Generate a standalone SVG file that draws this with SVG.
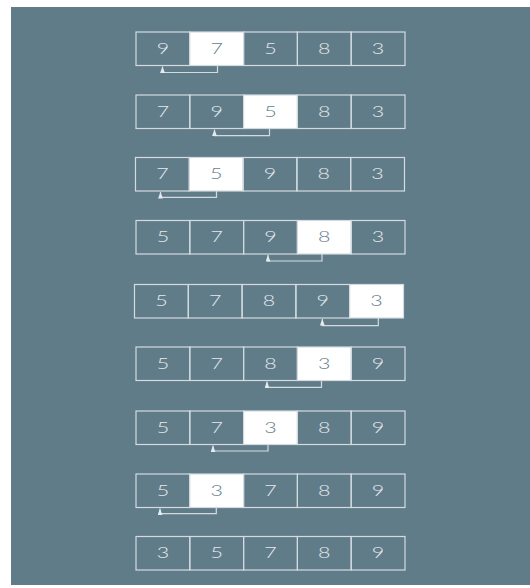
<svg xmlns="http://www.w3.org/2000/svg" width="530" height="588" viewBox="0 0 530 588">
<defs>
<style>
.cell{fill:none;stroke:#d3dbe0;stroke-width:1.2}
.hl{fill:#ffffff;stroke:#d3dbe0;stroke-width:1.2}
.t{font-family:Lato,"Open Sans","DejaVu Sans",sans-serif;font-weight:300;font-size:16.5px;fill:#e4eaee;text-anchor:middle;transform-box:fill-box;transform-origin:center;transform:scaleX(1.3)}
.th{fill:#647e8b}
.con{fill:none;stroke:#d3dbe0;stroke-width:1.2;marker-end:url(#ah)}
</style>
<marker id="ah" viewBox="0 0 6 8" refX="3" refY="0" markerWidth="5" markerHeight="6.5" orient="0" markerUnits="userSpaceOnUse">
<path d="M0,8 L3,0 L6,8 Z" fill="#e4eaee"/>
</marker>
</defs>
<rect x="11" y="7" width="519" height="578" fill="#617c89"/>

<g id="row1" transform="translate(136,32)">
<rect class="cell" x="0" y="0" width="53.8" height="33.5"/><rect class="hl" x="53.8" y="0" width="53.8" height="33.5"/><rect class="cell" x="107.6" y="0" width="53.8" height="33.5"/><rect class="cell" x="161.4" y="0" width="53.8" height="33.5"/><rect class="cell" x="215.2" y="0" width="53.8" height="33.5"/>
<text class="t" x="26.9" y="22">9</text><text class="t th" x="80.7" y="22">7</text><text class="t" x="134.5" y="22">5</text><text class="t" x="188.3" y="22">8</text><text class="t" x="242.1" y="22">3</text>
</g>
<g id="row2" transform="translate(136,95)">
<rect class="cell" x="0" y="0" width="53.8" height="33.5"/><rect class="cell" x="53.8" y="0" width="53.8" height="33.5"/><rect class="hl" x="107.6" y="0" width="53.8" height="33.5"/><rect class="cell" x="161.4" y="0" width="53.8" height="33.5"/><rect class="cell" x="215.2" y="0" width="53.8" height="33.5"/>
<text class="t" x="26.9" y="22">7</text><text class="t" x="80.7" y="22">9</text><text class="t th" x="134.5" y="22">5</text><text class="t" x="188.3" y="22">8</text><text class="t" x="242.1" y="22">3</text>
</g>
<g id="row3" transform="translate(135.5,157.5)">
<rect class="cell" x="0" y="0" width="53.8" height="33.5"/><rect class="hl" x="53.8" y="0" width="53.8" height="33.5"/><rect class="cell" x="107.6" y="0" width="53.8" height="33.5"/><rect class="cell" x="161.4" y="0" width="53.8" height="33.5"/><rect class="cell" x="215.2" y="0" width="53.8" height="33.5"/>
<text class="t" x="26.9" y="22">7</text><text class="t th" x="80.7" y="22">5</text><text class="t" x="134.5" y="22">9</text><text class="t" x="188.3" y="22">8</text><text class="t" x="242.1" y="22">3</text>
</g>
<g id="row4" transform="translate(136,220.5)">
<rect class="cell" x="0" y="0" width="53.8" height="33.5"/><rect class="cell" x="53.8" y="0" width="53.8" height="33.5"/><rect class="cell" x="107.6" y="0" width="53.8" height="33.5"/><rect class="hl" x="161.4" y="0" width="53.8" height="33.5"/><rect class="cell" x="215.2" y="0" width="53.8" height="33.5"/>
<text class="t" x="26.9" y="22">5</text><text class="t" x="80.7" y="22">7</text><text class="t" x="134.5" y="22">9</text><text class="t th" x="188.3" y="22">8</text><text class="t" x="242.1" y="22">3</text>
</g>
<g id="row5" transform="translate(134.5,284.5)">
<rect class="cell" x="0" y="0" width="53.8" height="33.5"/><rect class="cell" x="53.8" y="0" width="53.8" height="33.5"/><rect class="cell" x="107.6" y="0" width="53.8" height="33.5"/><rect class="cell" x="161.4" y="0" width="53.8" height="33.5"/><rect class="hl" x="215.2" y="0" width="53.8" height="33.5"/>
<text class="t" x="26.9" y="22">5</text><text class="t" x="80.7" y="22">7</text><text class="t" x="134.5" y="22">8</text><text class="t" x="188.3" y="22">9</text><text class="t th" x="242.1" y="22">3</text>
</g>
<g id="row6" transform="translate(136,347)">
<rect class="cell" x="0" y="0" width="53.8" height="33.5"/><rect class="cell" x="53.8" y="0" width="53.8" height="33.5"/><rect class="cell" x="107.6" y="0" width="53.8" height="33.5"/><rect class="hl" x="161.4" y="0" width="53.8" height="33.5"/><rect class="cell" x="215.2" y="0" width="53.8" height="33.5"/>
<text class="t" x="26.9" y="22">5</text><text class="t" x="80.7" y="22">7</text><text class="t" x="134.5" y="22">8</text><text class="t th" x="188.3" y="22">3</text><text class="t" x="242.1" y="22">9</text>
</g>
<g id="row7" transform="translate(136,411)">
<rect class="cell" x="0" y="0" width="53.8" height="33.5"/><rect class="cell" x="53.8" y="0" width="53.8" height="33.5"/><rect class="hl" x="107.6" y="0" width="53.8" height="33.5"/><rect class="cell" x="161.4" y="0" width="53.8" height="33.5"/><rect class="cell" x="215.2" y="0" width="53.8" height="33.5"/>
<text class="t" x="26.9" y="22">5</text><text class="t" x="80.7" y="22">7</text><text class="t th" x="134.5" y="22">3</text><text class="t" x="188.3" y="22">8</text><text class="t" x="242.1" y="22">9</text>
</g>
<g id="row8" transform="translate(136,474)">
<rect class="cell" x="0" y="0" width="53.8" height="33.5"/><rect class="hl" x="53.8" y="0" width="53.8" height="33.5"/><rect class="cell" x="107.6" y="0" width="53.8" height="33.5"/><rect class="cell" x="161.4" y="0" width="53.8" height="33.5"/><rect class="cell" x="215.2" y="0" width="53.8" height="33.5"/>
<text class="t" x="26.9" y="22">5</text><text class="t th" x="80.7" y="22">3</text><text class="t" x="134.5" y="22">7</text><text class="t" x="188.3" y="22">8</text><text class="t" x="242.1" y="22">9</text>
</g>
<g id="row9" transform="translate(136,536.5)">
<rect class="cell" x="0" y="0" width="53.8" height="33.5"/><rect class="cell" x="53.8" y="0" width="53.8" height="33.5"/><rect class="cell" x="107.6" y="0" width="53.8" height="33.5"/><rect class="cell" x="161.4" y="0" width="53.8" height="33.5"/><rect class="cell" x="215.2" y="0" width="53.8" height="33.5"/>
<text class="t" x="26.9" y="22">3</text><text class="t" x="80.7" y="22">5</text><text class="t" x="134.5" y="22">7</text><text class="t" x="188.3" y="22">8</text><text class="t" x="242.1" y="22">9</text>
</g>

<g id="connectors">
<path class="con" d="M217.5,65.5 V72.5 H162.5 V66.5"/>
<path class="con" d="M269.5,128.5 V135.7 H214.5 V129.5"/>
<path class="con" d="M216.5,191 V197.3 H160.5 V192"/>
<path class="con" d="M322,254 V261 H268 V255"/>
<path class="con" d="M378.3,318 V325.7 H322.3 V319"/>
<path class="con" d="M321.5,380.5 V387.3 H267 V381.5"/>
<path class="con" d="M268,444.5 V451 H213 V445.5"/>
<path class="con" d="M216.3,507.5 V513.7 H160 V508.5"/>
</g>
</svg>
